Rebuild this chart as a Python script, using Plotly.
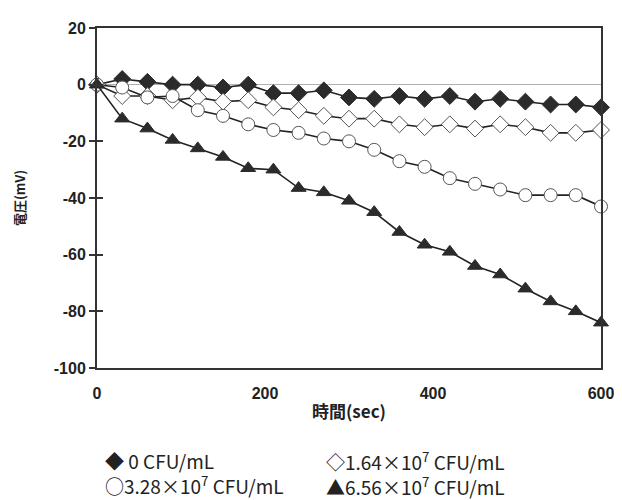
import plotly.graph_objects as go

time_sec = [0, 30, 60, 90, 120, 150, 180, 210, 240, 270, 300, 330, 360, 390, 420, 450, 480, 510, 540, 570, 600]
v_0 = [0, 2, 1, 0, 0, -1, 0, -3, -3, -2, -4.5, -5, -4, -5, -4, -6, -5, -6, -7, -7, -8]
v_164 = [0, -4, -4, -5.5, -4.5, -6, -5.5, -8, -9, -11, -12, -12, -14, -15, -14, -15.5, -14, -15, -17, -17, -16]
v_328 = [0, -1, -4.5, -4, -9, -11, -14, -16, -17, -19, -20, -23, -27, -29, -33, -35, -37, -39, -39, -39, -43]
v_656 = [0, -12, -15.5, -19.5, -22.5, -25.5, -29.5, -30, -36.5, -38, -41, -45, -52, -56.5, -59, -64, -67, -72, -76.5, -80, -84]

series_names = ["0 CFU/mL", "1.64×10<sup>7</sup> CFU/mL", "3.28×10<sup>7</sup> CFU/mL", "6.56×10<sup>7</sup> CFU/mL"]
legend_glyphs = ["◆ ", "◇", "○", "▲"]
x_ticks = [0, 200, 400, 600]
y_ticks = [-100, -80, -60, -40, -20, 0, 20]

DARK = "#2b2b2b"
styles = [
    dict(symbol="diamond", color=DARK, line=dict(color=DARK, width=1), size=13),
    dict(symbol="diamond", color="white", line=dict(color="#555555", width=1), size=13),
    dict(symbol="circle", color="white", line=dict(color="#555555", width=1), size=13),
    dict(symbol="triangle-up", color=DARK, line=dict(color=DARK, width=1), size=13),
]

fig = go.Figure()
for vals, name, st in zip([v_0, v_164, v_328, v_656], series_names, styles):
    fig.add_trace(go.Scatter(
        x=time_sec, y=vals, mode="lines+markers", name=name,
        line=dict(color="#222222", width=1.6),
        marker=st, showlegend=False, cliponaxis=False,
    ))

# invisible trace on second y-axis for inside ticks
fig.add_trace(go.Scatter(x=[0], y=[0], yaxis="y2", mode="markers",
                         marker=dict(opacity=0), showlegend=False, hoverinfo="skip"))

tick_font = dict(family="Liberation Sans, Arial, sans-serif", size=16, color="#222222")

# page body has an 8px margin; compensate so the plot area sits at x 97..601, y 23..368
fig.update_layout(
    width=622, height=500,
    margin=dict(l=89, r=29, t=15, b=140),
    paper_bgcolor="white", plot_bgcolor="white",
    xaxis=dict(range=[0, 600], tickvals=x_ticks, ticktext=[f"<b>{v}</b>" for v in x_ticks],
               showline=True, linecolor="#333333", linewidth=2, mirror=True,
               ticks="", showgrid=False, zeroline=False, tickfont=tick_font,
               ticklabelstandoff=10,
               title=dict(text="<b>時間(sec)</b>", font=dict(family="Noto Sans CJK JP", size=17, color="#222"), standoff=5)),
    yaxis=dict(range=[-100, 20], tickvals=y_ticks, ticktext=[f"<b>{v}</b>" for v in y_ticks],
               showline=True, linecolor="#333333", linewidth=2, mirror=True,
               ticks="outside", ticklen=6, tickwidth=1.5, tickcolor="#333333",
               showgrid=False, zeroline=True, zerolinecolor="#b0b0b0", zerolinewidth=1,
               tickfont=tick_font,
               title=dict(text="<b>電圧(mV)</b>", font=dict(family="Noto Sans CJK JP", size=13, color="#222"), standoff=25)),
    yaxis2=dict(range=[-100, 20], overlaying="y", side="left", tickvals=y_ticks,
                ticks="inside", ticklen=6, tickwidth=1.5, tickcolor="#333333",
                showticklabels=False, showgrid=False, zeroline=False, showline=False),
)

legend_font = dict(family="Noto Sans CJK JP", size=19, color="#222222")
entries = [g + n for g, n in zip(legend_glyphs, series_names)]
columns = [(103, [entries[0], entries[2]]), (324, [entries[1], entries[3]])]
for px, texts in columns:
    fig.add_annotation(
        x=(px - 97) / 504, y=(368 - 475) / 345, xref="paper", yref="paper",
        text="<br>".join(texts), showarrow=False, xanchor="left", yanchor="middle",
        align="left", font=legend_font,
    )

fig.write_html("out.html")
